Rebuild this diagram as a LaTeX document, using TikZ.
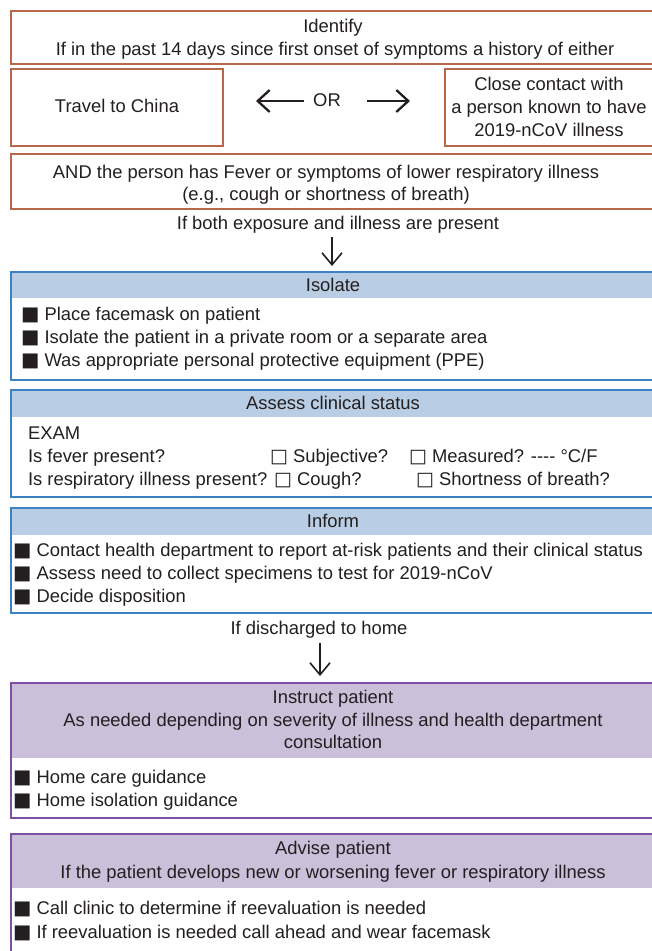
\documentclass[tikz,border=0pt]{standalone}
\usepackage{fontspec}
\setmainfont[Ligatures=TeXOff]{Liberation Sans}
\newfontfamily\symfont{DejaVu Sans}
\usetikzlibrary{arrows.meta}
\definecolor{txtc}{RGB}{35,31,32}
\definecolor{brownb}{RGB}{184,104,72}
\definecolor{blueb}{RGB}{60,130,195}
\definecolor{bluef}{RGB}{185,205,228}
\definecolor{purpb}{RGB}{125,80,165}
\definecolor{purpf}{RGB}{203,192,218}
\newcommand{\bsq}{{\symfont\fontsize{19.5}{22}\selectfont ■}}
\newcommand{\wsq}{{\symfont\fontsize{19}{22}\selectfont □}}
\begin{document}
\begin{tikzpicture}[x=1pt,y=-1pt,
  txt/.style={inner sep=0pt, outer sep=0pt, text=txtc, font=\fontsize{18.4}{23}\selectfont},
  ctxt/.style={txt, anchor=base},
  ltxt/.style={txt, anchor=base west},
  boxbase/.style={anchor=north west, inner sep=0pt, outer sep=0pt, line width=1.4pt},
  brbox/.style={boxbase, draw=brownb},
  blbox/.style={boxbase, draw=blueb},
  ppbox/.style={boxbase, draw=purpb},
  blhdr/.style={anchor=north west, inner sep=0pt, outer sep=0pt, fill=bluef},
  pphdr/.style={anchor=north west, inner sep=0pt, outer sep=0pt, fill=purpf},
  downarr/.style={draw=txtc, line width=1.6pt, -{Straight Barb[length=12pt,width=20pt]}},
  orarr/.style={draw=txtc, line width=2.3pt, -{Straight Barb[length=12pt,width=22pt]}}
]
\useasboundingbox (0,0) rectangle (652,951);
\path[clip] (0,0) rectangle (652,951);
\fill[white] (0,0) rectangle (652,951);

% --- Identify section (brown boxes)
\node[brbox, minimum width=649pt, minimum height=53pt] (identify) at (11,11) {};
\node[ctxt] (idt1) at (333,32.6) {Identify};
\node[ctxt] (idt2) at (335,55.6) {If in the past 14 days since first onset of symptoms a history of either};

\node[brbox, minimum width=212pt, minimum height=77pt] (travel) at (11,69) {};
\node[ctxt] (travelt) at (117,112.6) {Travel to China};

\node[brbox, minimum width=215pt, minimum height=77pt] (close) at (445,69) {};
\node[ctxt] (closet1) at (549,90.6) {Close contact with};
\node[ctxt] (closet2) at (549,113.6) {a person known to have};
\node[ctxt] (closet3) at (549,136.6) {2019-nCoV illness};

\node[ctxt] (or) at (327,106.6) {OR};
\coordinate (orl1) at (304,101);
\coordinate (orl2) at (256,101);
\coordinate (orr1) at (367,101);
\coordinate (orr2) at (410,101);
\draw[orarr] (orl1) -- (orl2);
\draw[orarr] (orr1) -- (orr2);

\node[brbox, minimum width=649pt, minimum height=55pt] (andbox) at (11,154) {};
\node[ctxt] (andt1) at (326,178.6) {AND the person has Fever or symptoms of lower respiratory illness};
\node[ctxt] (andt2) at (326,200.6) {(e.g., cough or shortness of breath)};

\node[ctxt] (ifboth) at (338,229.6) {If both exposure and illness are present};
\coordinate (a1s) at (332,237);
\coordinate (a1e) at (332,266);
\draw[downarr] (a1s) -- (a1e);

% --- Isolate
\node[blhdr, minimum width=649pt, minimum height=26pt] (isoh) at (11,272) {};
\node[blbox, minimum width=649pt, minimum height=108pt] (iso) at (11,272) {};
\node[ctxt] (isot) at (333,291.6) {Isolate};
\node[ltxt] (isob1) at (21,320.6) {\bsq{} Place facemask on patient};
\node[ltxt] (isob2) at (21,343.6) {\bsq{} Isolate the patient in a private room or a separate area};
\node[ltxt] (isob3) at (21,366.6) {\bsq{} Was appropriate personal protective equipment (PPE)};

% --- Assess clinical status
\node[blhdr, minimum width=649pt, minimum height=27pt] (assh) at (11,390) {};
\node[blbox, minimum width=649pt, minimum height=107pt] (ass) at (11,390) {};
\node[ctxt] (asst) at (333,409.6) {Assess clinical status};
\node[ltxt] (exam) at (28,439.6) {EXAM};
\node[ltxt] (fever) at (28,462.6) {Is fever present?};
\node[ltxt] (subj) at (270,462.6) {\wsq{} Subjective?};
\node[ltxt] (meas) at (409,462.6) {\wsq{} Measured? ---- °C/F};
\node[ltxt] (resp) at (28,485.6) {Is respiratory illness present? \wsq{} Cough?};
\node[ltxt] (sob) at (416,485.6) {\wsq{} Shortness of breath?};

% --- Inform
\node[blhdr, minimum width=649pt, minimum height=27pt] (infh) at (11,508) {};
\node[blbox, minimum width=649pt, minimum height=105pt] (inf) at (11,508) {};
\node[ctxt] (inft) at (333,527.6) {Inform};
\node[ltxt] (infb1) at (13,556.6) {\bsq{} Contact health department to report at-risk patients and their clinical status};
\node[ltxt] (infb2) at (13,579.6) {\bsq{} Assess need to collect specimens to test for 2019-nCoV};
\node[ltxt] (infb3) at (13,602.6) {\bsq{} Decide disposition};

\node[ctxt] (disch) at (319,634.6) {If discharged to home};
\coordinate (a2s) at (320,643);
\coordinate (a2e) at (320,676);
\draw[downarr] (a2s) -- (a2e);

% --- Instruct patient
\node[pphdr, minimum width=649pt, minimum height=75pt] (insh) at (11,683) {};
\node[ppbox, minimum width=649pt, minimum height=135pt] (ins) at (11,683) {};
\node[ctxt] (inst1) at (333,703.6) {Instruct patient};
\node[ctxt] (inst2) at (333,726.6) {As needed depending on severity of illness and health department};
\node[ctxt] (inst3) at (333,748.6) {consultation};
\node[ltxt] (insb1) at (13,783.6) {\bsq{} Home care guidance};
\node[ltxt] (insb2) at (13,806.6) {\bsq{} Home isolation guidance};

% --- Advise patient
\node[pphdr, minimum width=649pt, minimum height=54pt] (advh) at (11,834) {};
\node[ppbox, minimum width=649pt, minimum height=140pt] (adv) at (11,834) {};
\node[ctxt] (advt1) at (333,854.6) {Advise patient};
\node[ctxt] (advt2) at (333,878.6) {If the patient develops new or worsening fever or respiratory illness};
\node[ltxt] (advb1) at (13,914.6) {\bsq{} Call clinic to determine if reevaluation is needed};
\node[ltxt] (advb2) at (13,938.6) {\bsq{} If reevaluation is needed call ahead and wear facemask};
\end{tikzpicture}
\end{document}
